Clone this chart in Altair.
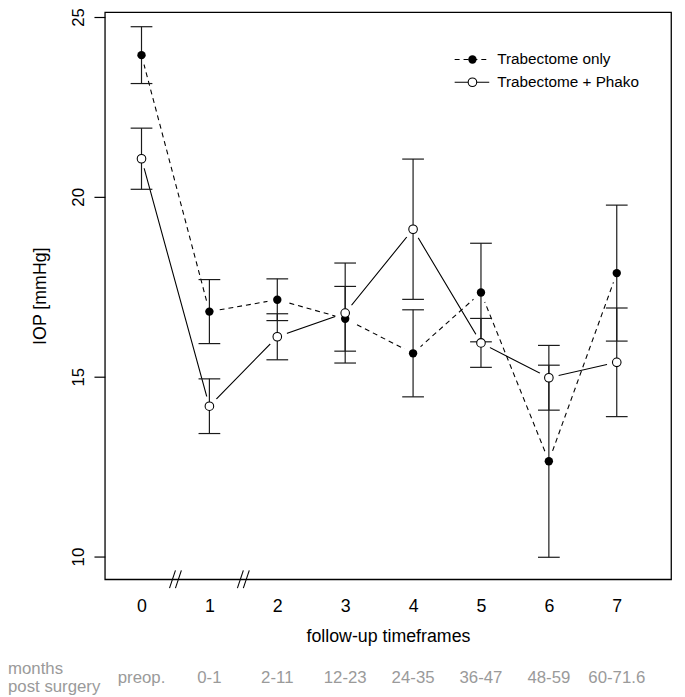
import altair as alt
import pandas as pd

# ---------------- data ----------------
timeframes = [0, 1, 2, 3, 4, 5, 6, 7]
months = ["preop.", "0-1", "2-11", "12-23", "24-35", "36-47", "48-59", "60-71.6"]
only_mean = [23.94, 16.81, 17.14, 16.61, 15.65, 17.34, 12.65, 17.88]
only_err = [0.79, 0.89, 0.58, 0.90, 1.21, 1.37, 2.67, 1.89]
phako_mean = [21.06, 14.18, 16.11, 16.77, 19.10, 15.94, 14.97, 15.40]
phako_err = [0.85, 0.76, 0.64, 1.39, 1.95, 0.68, 0.90, 1.51]
series_names = ["Trabectome only", "Trabectome + Phako"]
break_positions = [0.5, 1.5]
y_ticks = [10, 15, 20, 25]

FONT = "Liberation Sans"
W, H = 573, 574
CAP = 0.16  # half cap width in timeframe units

rows = []
for name, means, errs in [(series_names[0], only_mean, only_err),
                          (series_names[1], phako_mean, phako_err)]:
    for t, m, e in zip(timeframes, means, errs):
        rows.append({"series": name, "t": t, "iop": m,
                     "lo": m - e, "hi": m + e,
                     "tl": t - CAP, "tr": t + CAP})
df = pd.DataFrame(rows)
df_only = df[df.series == series_names[0]]
df_phako = df[df.series == series_names[1]]

xscale = alt.Scale(domain=[-0.54, 7.8], nice=False, zero=False)
yscale = alt.Scale(domain=[9.368, 25.137], nice=False, zero=False)
xaxis = alt.Axis(values=timeframes, ticks=False, domain=False, grid=False,
                 labelFontSize=18, labelPadding=19, labelColor="black",
                 labelFont=FONT, title="follow-up timeframes", titleFont=FONT,
                 titleFontSize=18, titleFontWeight="normal", titleColor="black",
                 titlePadding=12, format="d")
yaxis = alt.Axis(values=y_ticks, grid=False, domain=False, tickSize=11,
                 tickColor="black", tickWidth=1.2, labelAngle=270,
                 labelFontSize=17, labelColor="black", labelFont=FONT,
                 labelPadding=7, title="IOP [mmHg]", titleFont=FONT,
                 titleFontSize=18, titleFontWeight="normal", titleColor="black",
                 titlePadding=20)

X = alt.X("t:Q", scale=xscale, axis=xaxis)
Y = alt.Y("iop:Q", scale=yscale, axis=yaxis)

line_only = alt.Chart(df_only).mark_line(color="black", strokeWidth=1.1,
                                         strokeDash=[5, 4]).encode(x=X, y=Y)
line_phako = alt.Chart(df_phako).mark_line(color="black",
                                           strokeWidth=1.1).encode(x=X, y=Y)
mask = alt.Chart(df).mark_circle(color="white", fill="white", size=420,
                                 opacity=1, fillOpacity=1).encode(x=X, y=Y)
err_v = alt.Chart(df).mark_rule(color="#1a1a1a", strokeWidth=1.2).encode(
    x=X, y=alt.Y("lo:Q", scale=yscale, axis=yaxis), y2="hi:Q")
cap_lo = alt.Chart(df).mark_rule(color="#1a1a1a", strokeWidth=1.2).encode(
    x=alt.X("tl:Q", scale=xscale, axis=xaxis), x2="tr:Q",
    y=alt.Y("lo:Q", scale=yscale, axis=yaxis))
cap_hi = alt.Chart(df).mark_rule(color="#1a1a1a", strokeWidth=1.2).encode(
    x=alt.X("tl:Q", scale=xscale, axis=xaxis), x2="tr:Q",
    y=alt.Y("hi:Q", scale=yscale, axis=yaxis))
pts_only = alt.Chart(df_only).mark_point(shape="circle", filled=True,
                                         color="black", size=72,
                                         opacity=1).encode(x=X, y=Y)
pts_phako = alt.Chart(df_phako).mark_point(shape="circle", filled=True,
                                           fill="white", stroke="black",
                                           strokeWidth=1.1, size=75,
                                           opacity=1).encode(x=X, y=Y)

# axis break marks "//"
df_breaks = pd.DataFrame({"t": break_positions})
brk1 = alt.Chart(df_breaks).mark_rule(color="black", strokeWidth=1.1,
                                      xOffset=-6, x2Offset=0).encode(
    x=X, x2="t:Q", y=alt.value(H + 9), y2=alt.value(H - 9))
brk2 = alt.Chart(df_breaks).mark_rule(color="black", strokeWidth=1.1,
                                      xOffset=0, x2Offset=6).encode(
    x=X, x2="t:Q", y=alt.value(H + 9), y2=alt.value(H - 9))

# legend
df_leg = pd.DataFrame({"series": series_names, "ly": [48, 71]})
leg_line1 = alt.Chart(df_leg.iloc[[0]]).mark_rule(
    color="black", strokeWidth=1.1, strokeDash=[5, 4]).encode(
    x=alt.value(354), x2=alt.value(389), y=alt.value(48))
leg_line2 = alt.Chart(df_leg.iloc[[1]]).mark_rule(
    color="black", strokeWidth=1.1).encode(
    x=alt.value(354), x2=alt.value(389), y=alt.value(71))
leg_pt1 = alt.Chart(df_leg.iloc[[0]]).mark_point(
    shape="circle", filled=True, color="black", size=72, opacity=1).encode(
    x=alt.value(372), y=alt.value(48))
leg_pt2 = alt.Chart(df_leg.iloc[[1]]).mark_point(
    shape="circle", filled=True, fill="white", stroke="black",
    strokeWidth=1.1, size=75, opacity=1).encode(
    x=alt.value(372), y=alt.value(71))
leg_text = alt.Chart(df_leg).mark_text(
    align="left", baseline="middle", fontSize=15.5, font=FONT,
    color="black").encode(x=alt.value(397), y=alt.Y("ly:Q", scale=None),
                          text="series:N")

# months row
df_months = pd.DataFrame({"t": timeframes, "label": months})
month_text = alt.Chart(df_months).mark_text(
    baseline="middle", align="center", fontSize=17, font=FONT,
    color="#9a9a9a").encode(x=X, y=alt.value(H + 100), text="label:N")
df_mlab = pd.DataFrame({"label": ["months", "post surgery"],
                        "ly": [H + 91, H + 109]})
mlab_text = alt.Chart(df_mlab).mark_text(
    baseline="middle", align="left", fontSize=17, font=FONT,
    color="#9a9a9a").encode(x=alt.value(-98), y=alt.Y("ly:Q", scale=None),
                            text="label:N")

chart = alt.layer(
    line_only, line_phako, mask, err_v, cap_lo, cap_hi, pts_only, pts_phako,
    brk1, brk2, leg_line1, leg_line2, leg_pt1, leg_pt2, leg_text,
    month_text, mlab_text
).properties(
    width=W, height=H,
    autosize=alt.AutoSizeParams(type="none"),
    padding={"left": 98, "top": 0, "right": 6, "bottom": 115},
).configure(
    background="white",
    view=alt.ViewConfig(stroke="black", strokeWidth=1.3),
)

chart.save("out.html", embed_options={"renderer": "svg", "actions": False})
